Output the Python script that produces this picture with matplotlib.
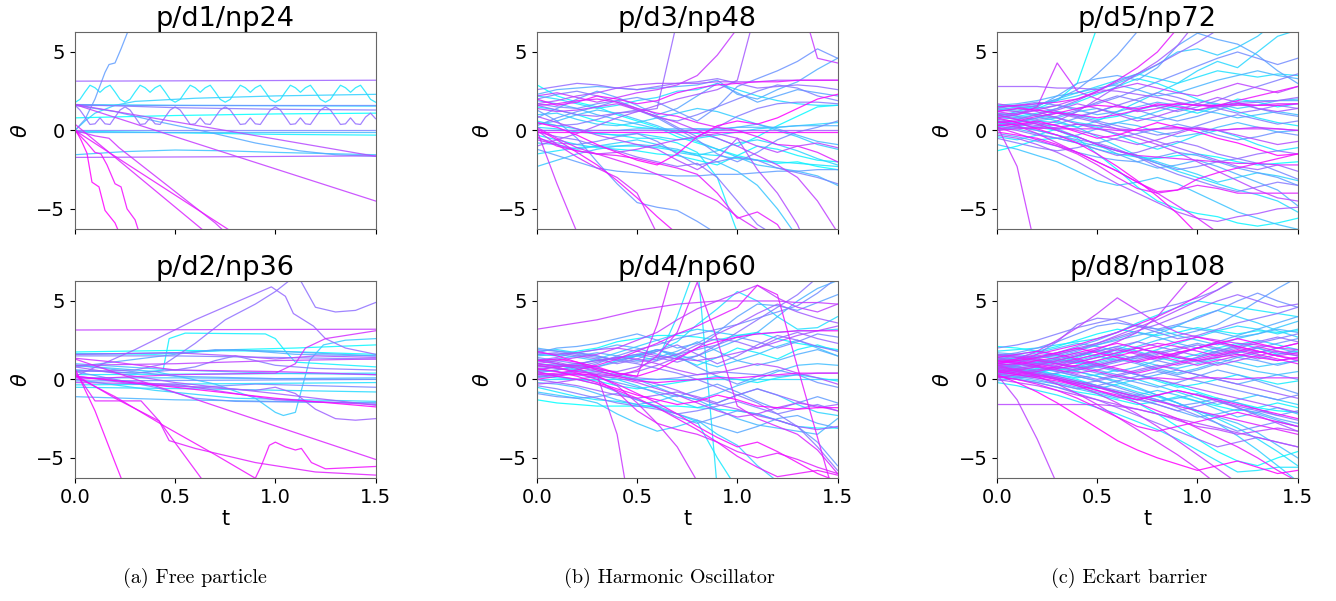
import numpy as np
import matplotlib
matplotlib.use("Agg")
import matplotlib.pyplot as plt

# time grids
t_grid = np.round(np.arange(16) * 0.1, 1)        # 0.0 .. 1.5
wave_t = np.round(np.arange(61) * 0.025, 3)      # 0.0 .. 1.5

cyan_wave = [1.78, 1.98, 2.45, 2.88, 2.72, 2.43, 2.72, 2.88, 2.45, 1.98,
             1.80, 1.98, 2.45, 2.88, 2.72, 2.43, 2.72, 2.88, 2.45, 1.98,
             1.80, 1.98, 2.45, 2.88, 2.72, 2.43, 2.72, 2.88, 2.45, 1.98,
             1.80, 1.98, 2.45, 2.88, 2.72, 2.43, 2.72, 2.88, 2.45, 1.98,
             1.80, 1.98, 2.45, 2.88, 2.72, 2.43, 2.72, 2.88, 2.45, 1.98,
             1.80, 1.98, 2.45, 2.88, 2.72, 2.43, 2.72, 2.88, 2.45, 1.98,
             1.80]
purple_wave = [1.62, 1.30, 0.85, 0.38, 0.42, 0.80, 0.42, 0.38, 0.85, 1.30,
               1.50, 1.30, 0.85, 0.38, 0.42, 0.80, 0.42, 0.38, 0.85, 1.30,
               1.50, 1.30, 0.85, 0.38, 0.42, 0.80, 0.42, 0.38, 0.85, 1.30,
               1.50, 1.30, 0.85, 0.38, 0.42, 0.80, 0.42, 0.38, 0.85, 1.30,
               1.50, 1.30, 0.85, 0.38, 0.42, 0.80, 0.42, 0.38, 0.85, 1.30,
               1.50, 1.30, 0.85, 0.38, 0.42, 0.80, 0.42, 0.38, 0.85, 1.10,
               0.75]

# p/d1/np24 : (t knots, theta knots), cyan -> magenta
d1 = [
    ([0, 0.5, 1.0, 1.5], [0.8, 0.95, 1.05, 1.1]),
    ([0, 0.5, 1.0, 1.5], [-0.05, -0.15, -0.25, -0.3]),
    (wave_t, cyan_wave),
    ([0, 0.5, 1.5], [1.65, 1.6, 1.55]),
    ([0, 0.05, 0.1, 0.2, 0.3, 0.6, 1.0, 1.5], [0.0, 0.6, 1.1, 1.6, 1.85, 2.05, 2.2, 2.3]),
    ([0, 0.25, 0.5, 0.75, 1.0, 1.5], [-1.55, -1.35, -1.25, -1.3, -1.4, -1.55]),
    ([0, 1.5], [-0.1, -0.1]),
    ([0, 0.2, 0.4, 0.68, 0.9, 1.12, 1.3, 1.5], [1.6, 1.2, 0.6, -0.15, -0.8, -1.3, -1.55, -1.65]),
    ([0, 0.05, 0.1, 0.15, 0.17, 0.2, 0.23, 0.27, 0.3], [0.0, 0.7, 2.0, 3.7, 4.2, 4.3, 5.2, 6.5, 7.5]),
    ([0, 1.5], [1.62, 1.62]),
    ([0, 1.5], [0.02, 0.02]),
    ([0, 0.5, 1.0, 1.5], [1.65, 1.45, 1.35, 1.3]),
    (wave_t, purple_wave),
    ([0, 1.5], [3.14, 3.2]),
    ([0, 0.75, 1.5], [-1.72, -1.68, -1.62]),
    ([0, 1.5], [1.65, -1.65]),
    ([0, 1.5], [1.65, -4.5]),
    ([0, 0.1, 0.17, 0.22, 0.3, 0.4, 0.55, 0.7, 0.75], [0.0, -0.35, -0.5, -1.1, -1.9, -2.9, -4.4, -5.9, -6.5]),
    ([0, 0.7], [0.4, -7.0]),
    ([0, 0.8], [0.0, -6.6]),
    ([0, 0.06, 0.1, 0.13, 0.16, 0.2, 0.23, 0.26, 0.3, 0.32], [0.0, -0.8, -1.4, -1.5, -2.2, -3.4, -3.6, -5.0, -5.7, -6.5]),
    ([0, 0.03, 0.06, 0.085, 0.12, 0.15, 0.2, 0.22], [0.1, -0.6, -1.45, -3.3, -3.6, -5.1, -5.9, -6.5]),
]

# p/d2/np36
d2 = [
    ([0, 0.5, 1.0, 1.5], [1.75, 1.85, 1.8, 1.6]),
    ([0, 0.4, 0.8, 1.1, 1.5], [1.65, 1.6, 1.9, 2.0, 2.2]),
    ([0, 0.3, 0.44, 0.47, 0.55, 0.95, 1.0, 1.05, 1.1, 1.5], [0.6, 0.4, 0.6, 2.6, 2.95, 2.9, 2.6, 1.8, 1.1, 0.8]),
    ([0, 1.5], [0.3, 0.4]),
    ([0, 1.5], [-0.35, -0.2]),
    ([0, 0.6, 1.5], [-0.5, -0.6, -0.8]),
    ([0, 0.4, 0.8, 1.5], [0.0, -0.7, -1.2, -1.4]),
    ([0, 0.4, 0.7, 0.9, 1.0, 1.04, 1.1, 1.17, 1.24, 1.35, 1.5], [0.9, 0.5, -0.3, -1.2, -2.1, -2.3, -2.1, 1.2, 2.2, 2.5, 2.6]),
    ([0, 0.5, 1.0, 1.5], [0.1, 0.1, 0.05, 0.1]),
    ([0, 0.5, 1.0, 1.5], [1.0, 0.6, 0.4, 0.3]),
    ([0, 0.5, 1.0, 1.5], [-1.1, -1.3, -1.4, -1.5]),
    ([0, 0.5, 0.8, 1.1, 1.5], [1.6, 1.7, 1.9, 1.6, 1.5]),
    ([0, 0.5, 0.7, 1.0, 1.5], [0.8, 1.6, 1.9, 1.8, 1.5]),
    ([0, 0.5, 1.0, 1.5], [0.9, 0.2, 0.05, 0.0]),
    ([0, 0.4, 0.6, 0.8, 1.5], [0.5, -0.5, -1.2, -1.4, -1.5]),
    ([0, 1.5], [-0.1, 0.0]),
    ([0, 0.3, 0.6, 0.9, 1.2, 1.5], [0.2, -0.3, -0.5, -0.3, -0.4, -0.5]),
    ([0, 0.5, 1.0, 1.5], [1.5, 1.5, 1.4, 1.3]),
    ([0, 0.3, 0.5, 0.6, 0.7, 0.8, 0.9, 1.0, 1.2, 1.5], [0.6, 0.4, 0.6, 0.8, 1.2, 1.5, 1.2, 0.9, 0.7, 0.6]),
    ([0, 0.3, 0.45, 0.6, 0.75, 0.9, 1.0, 1.07, 1.1, 1.13, 1.2, 1.3, 1.4, 1.5], [0.5, 0.6, 1.0, 2.3, 3.8, 4.8, 5.6, 6.3, 6.8, 6.2, 4.6, 4.3, 4.4, 4.9]),
    ([0, 0.3, 0.6, 0.98, 1.05, 1.09, 1.19, 1.25, 1.35, 1.5], [0.2, 1.9, 3.8, 5.9, 5.3, 4.2, 3.4, 2.6, 2.0, 1.6]),
    ([0, 0.5, 0.9, 1.0, 1.1, 1.2, 1.3, 1.4, 1.5], [0.2, -0.4, -0.7, -0.5, -0.9, -1.9, -2.5, -2.6, -2.5]),
    ([0, 0.5, 1.0, 1.5], [0.8, -0.2, -0.9, -1.65]),
    ([0, 0.5, 0.8, 1.0, 1.2, 1.5], [1.6, 1.7, 1.5, 1.3, 1.5, 1.4]),
    ([0, 0.5, 1.0, 1.5], [-0.2, -0.3, -1.3, -1.6]),
    ([0, 0.5, 1.0, 1.5], [0.9, 1.0, 1.2, 1.3]),
    ([0, 1.5], [3.15, 3.2]),
    ([0, 0.2, 0.5, 1.0, 1.5], [1.35, 1.1, 0.6, 0.5, 0.3]),
    ([0, 0.5, 1.0, 1.1, 1.15, 1.25, 1.5], [0.0, 0.3, 0.4, 1.0, 2.0, 2.6, 3.1]),
    ([0, 1.5], [1.3, -5.1]),
    ([0, 0.1, 0.33, 0.42, 0.47, 0.6, 0.9, 1.2, 1.5], [0.5, -1.37, -1.37, -2.65, -3.9, -4.4, -5.3, -5.9, -6.1]),
    ([0, 0.2, 0.42, 0.63, 0.66], [0.3, -1.2, -2.65, -6.3, -6.8]),
    ([0, 0.2, 0.45, 0.7, 0.9, 0.93, 0.97, 1.0, 1.05, 1.1, 1.13, 1.18, 1.25, 1.5],
     [0.2, -1.1, -3.0, -4.8, -6.3, -5.5, -4.2, -4.0, -4.3, -4.5, -4.4, -5.3, -5.7, -5.55]),
    ([0, 0.1, 0.2, 0.24], [0.7, -2.0, -5.3, -6.6]),
    ([0, 0.5, 1.0, 1.5], [0.2, -0.5, -1.2, -1.75]),
]

# p/d3/np48 : theta at t_grid
d3 = [
    [2.9, 2.2, 1.8, 1.5, 1.0, 0.6, 0.2, -0.4, -0.8, -1.2, -1.6, -1.9, -2.1, -2.0, -2.3, -2.5],
    [1.5, 1.3, 1.0, 0.6, 0.4, 0.2, 0.1, 0.0, -0.2, -0.5, -1.0, -0.4, 0.3, 0.9, 1.5, 1.6],
    [-0.3, -0.6, -0.9, -1.1, -1.2, -1.3, -1.5, -1.6, -1.9, -2.2, -1.6, -1.0, -1.2, -1.6, -1.9, -2.0],
    [0.6, 0.3, 0.1, -0.2, -0.3, -0.5, -0.5, -0.8, -1.4, -3.0, -6.5, -9, -9, -9, -9, -9],
    [-1.5, -1.3, -1.1, -1.0, -1.0, -1.0, -1.1, -1.3, -1.5, -1.6, -1.8, -1.9, -2.0, -2.1, -2.2, -2.3],
    [2.2, 2.0, 1.7, 1.4, 1.6, 1.9, 2.1, 2.5, 2.6, 3.0, 2.6, 2.2, 1.9, 1.7, 1.6, 1.6],
    [0.2, 0.1, -0.1, -0.2, -0.3, -0.2, -0.4, -0.6, -0.5, -0.3, -0.1, 0.1, 0.2, 0.3, 0.4, 0.5],
    [-0.8, -0.9, -1.2, -1.0, -0.8, -0.6, -0.9, -1.4, -1.6, -1.3, -0.8, -0.6, -0.9, -1.3, -1.8, -2.2],
    [1.0, 1.1, 0.7, 0.4, 0.3, 0.5, 0.8, 1.1, 1.4, 1.2, 0.8, 0.4, 0.0, -0.4, -0.9, -1.2],
    [-2.3, -1.9, -1.5, -1.2, -1.0, -0.9, -1.0, -1.2, -1.6, -2.0, -2.6, -3.5, -5.0, -6.8, -9, -9],
    [0.4, 0.6, 1.0, 1.3, 1.1, 0.7, 0.3, -0.2, -0.7, -1.2, -1.7, -2.2, -2.4, -2.6, -2.9, -3.5],
    [1.9, 1.7, 1.4, 1.0, 0.7, 0.4, 0.1, -0.1, 0.1, 0.0, 0.2, 0.4, 0.1, -0.3, -0.7, -0.9],
    [0.0, 0.0, 0.0, 0.0, 0.0, 0.1, 0.1, 0.1, 0.1, 0.1, 0.2, 0.2, 0.2, 0.3, 0.3, 0.3],
    [2.3, 2.6, 2.7, 2.8, 2.7, 2.6, 2.7, 2.8, 2.9, 3.2, 2.3, 2.0, 2.6, 3.1, 3.9, 4.6],
    [0.8, 1.4, 2.0, 2.5, 2.1, 1.6, 1.0, 1.4, 2.2, 3.0, 2.4, 1.8, 2.2, 2.6, 2.4, 2.2],
    [-1.2, -1.6, -2.0, -2.4, -2.6, -2.7, -2.8, -2.9, -2.9, -2.8, -2.8, -2.7, -2.6, -2.6, -2.5, -2.5],
    [1.3, 0.6, -0.5, -2.0, -3.4, -4.6, -4.9, -5.1, -5.8, -6.6, -9, -9, -9, -9, -9, -9],
    [0.3, 0.8, 1.2, 1.5, 1.9, 2.1, 1.8, 1.2, 0.6, 1.5, 2.8, 3.3, 3.8, 4.4, 5.2, 4.6],
    [1.7, 1.5, 1.4, 1.7, 1.9, 1.4, 0.8, 0.1, -0.6, -1.5, -2.0, -1.4, -0.6, -0.1, 0.2, 0.6],
    [-0.5, -0.8, -0.9, -0.7, -0.4, -0.2, -0.7, -1.5, -2.2, -2.0, -1.7, -1.9, -2.4, -2.7, -3.0, -3.4],
    [2.0, 2.3, 2.5, 2.2, 1.8, 1.3, 0.8, 0.6, 1.0, 1.5, 2.0, 2.5, 2.9, 2.7, 2.2, 1.9],
    [0.5, 0.3, 0.4, 0.7, 1.1, 1.3, 0.9, 0.2, -0.4, 0.2, 0.9, 1.4, 1.7, 1.8, 1.8, 1.7],
    [-0.1, -0.4, -0.6, -1.0, -1.3, -1.7, -2.0, -2.3, -2.1, -3.0, -4.5, -6.0, -6.8, -9, -9, -9],
    [2.6, 2.8, 3.0, 2.9, 2.7, 2.6, 2.8, 3.0, 3.1, 3.3, 3.0, 2.7, 2.8, 2.9, 2.8, 2.6],
    [1.6, 1.3, 1.0, 0.9, 1.1, 1.2, 1.4, 7.0, 9, 9, 9, 9, 9, 9, 9, 9],
    [0.0, 0.0, 0.0, 0.0, 0.0, 0.0, 0.0, 0.0, 0.0, 0.0, 0.0, 0.0, 0.0, 0.0, 0.0, 0.0],
    [-1.0, -0.6, -0.2, 0.3, 0.8, 1.2, 1.6, 2.0, 2.3, 2.6, 3.2, 8, 9, 9, 9, 9],
    [1.7, 1.9, 2.2, 2.4, 2.7, 2.9, 3.0, 3.0, 3.0, 3.1, 3.1, 3.1, 3.2, 3.2, 3.2, 3.2],
    [0.9, 0.5, 0.1, -0.3, -0.6, -0.9, -1.2, -1.9, -2.5, -1.8, -0.5, -2.5, -4.0, -6.0, -9, -9],
    [-0.6, -0.9, -1.3, -1.5, -1.4, -1.2, -0.9, -0.6, -0.4, -0.2, -0.5, -1.0, -1.4, -1.0, -0.8, -1.1],
    [1.4, 1.2, 1.3, 1.5, 1.7, 1.3, 0.9, 0.5, 0.0, -0.5, -1.0, -1.6, -2.2, -3.0, -4.5, -6.5],
    [2.2, 2.4, 2.1, 1.8, 2.1, 2.4, 2.6, 2.9, 3.5, 4.8, 6.5, 9, 9, 9, 4.6, 4.3],
    [0.0, -3.4, -6.5, -9, -9, -9, -9, -9, -9, -9, -9, -9, -9, -9, -9, -9],
    [0.0, -0.9, -1.7, -2.4, -3.0, -4.0, -6.6, -9, -9, -9, -9, -9, -9, -9, -9, -9],
    [0.2, -0.5, -1.1, -1.5, -1.9, -2.3, -2.8, -3.3, -3.9, -4.5, -5.5, -6.3, -7, -9, -9, -9],
    [1.6, 1.7, 1.9, 2.0, 1.8, 1.4, 1.1, 0.9, 0.5, 0.2, 0.0, -0.4, -0.9, -1.0, -1.4, -2.0],
    [-0.4, -1.0, -1.3, -1.5, -1.6, -1.8, -2.1, -2.4, -2.8, -4.0, -5.6, -5.2, -6.0, -8, -9, -9],
    [2.0, 1.6, 1.8, 2.2, 2.0, 1.7, 1.9, 2.4, 2.7, 2.9, 3.0, 3.1, 3.1, 3.2, 3.2, 3.2],
    [0.1, -0.6, -1.4, -2.2, -3.2, -4.3, -5.5, -6.6, -9, -9, -9, -9, -9, -9, -9, -9],
    [-0.1, -0.1, -0.1, -0.1, -0.1, -0.1, -0.1, -0.1, -0.1, -0.1, -0.1, -0.1, -0.1, -0.1, -0.1, -0.1],
    [0.5, 0.2, -0.3, -0.9, -1.4, -1.9, -2.2, -1.5, -0.4, 0.3, 0.6, 0.4, 0.8, 1.4, 2.0, 2.3],
]

# p/d4/np60
d4 = [
    [-1.3, -1.5, -1.6, -1.7, -1.7, -1.7, -1.7, -1.7, -1.8, -1.9, -2.0, -2.2, -2.6, -3.0, -3.1, -3.1],
    [1.6, 1.5, 1.8, 2.0, 2.4, 2.6, 2.8, 2.8, 2.7, 2.5, 2.8, 3.0, 2.6, 2.3, 2.1, 1.9],
    [0.2, 0.1, 0.0, -0.1, -0.4, -0.6, -0.4, -0.2, 0.0, 0.2, 0.0, -0.2, 0.1, 0.3, 0.1, -0.1],
    [1.0, 0.9, 0.7, 0.8, 1.2, 1.5, 1.9, 1.4, 0.9, 1.4, 2.0, 1.7, 1.3, 1.9, 2.2, 1.8],
    [-0.5, -0.8, -1.1, -1.3, -1.4, -1.6, -1.8, -2.2, -2.7, -5.0, -7, -9, -9, -9, -9, -9],
    [0.6, 0.8, 1.0, 1.2, 1.4, 1.5, 1.2, 4.0, 7.5, -7.0, -9, -9, -9, -9, -9, -9],
    [1.8, 1.9, 1.7, 1.5, 1.2, 1.5, 1.8, 2.4, 3.5, 4.5, 5.6, 5.0, 4.0, 3.2, 3.3, 4.0],
    [0.0, 0.0, 0.0, 0.0, 0.0, 0.0, 0.0, 0.0, 0.0, 0.0, 0.0, 0.0, 0.0, 0.0, 0.0, 0.0],
    [1.3, 1.0, 0.6, 0.3, 0.0, -0.4, -0.9, -1.4, -1.8, -1.5, -1.0, -0.6, -1.0, -1.6, -2.1, -2.3],
    [0.4, 0.6, 0.9, 1.3, 1.7, 2.1, 2.5, 2.9, 3.2, 3.0, 2.8, 2.9, 3.0, 3.1, 3.1, 3.2],
    [-0.8, -1.0, -1.2, -1.5, -2.2, -2.8, -3.3, -3.0, -2.6, -3.5, -4.2, -5.5, -6.5, -8, -9, -9],
    [1.5, 1.6, 1.4, 1.2, 1.3, 1.6, 1.9, 1.6, 1.2, 0.8, 1.2, 1.6, 2.1, 2.5, 2.0, 1.5],
    [0.9, 0.7, 0.6, 0.5, 0.3, 0.0, -0.5, -1.0, -1.3, -0.9, -0.4, 0.0, 0.5, 0.9, 1.0, 0.9],
    [-0.2, -0.3, -0.5, -0.9, -1.3, -1.6, -1.4, -1.0, -1.3, -1.9, -2.5, -2.9, -3.1, -3.3, -3.5, -2.5],
    [2.0, 1.8, 1.7, 1.9, 2.2, 2.0, 1.6, 1.3, 1.5, 2.0, 2.5, 3.0, 4.0, 5.0, 5.8, 6.3],
    [1.1, 1.3, 1.5, 1.7, 1.5, 1.2, 1.4, 1.8, 2.4, 1.8, 1.2, 0.9, 1.2, 1.6, 1.9, 1.5],
    [0.3, 0.2, 0.0, -0.3, -0.8, -1.3, -1.7, -2.2, -2.6, -3.0, -3.4, -3.0, -2.5, -2.3, -2.8, -3.1],
    [1.7, 2.0, 2.1, 2.3, 2.6, 2.9, 2.5, 2.0, 2.3, 3.0, 4.0, 4.8, 4.7, 4.4, 4.9, 5.4],
    [0.6, 0.5, 0.3, 0.1, -0.2, -0.5, -0.8, -1.1, -0.7, -0.3, -0.8, -1.4, -1.9, -1.5, -1.1, -1.5],
    [-0.9, -1.1, -1.2, -1.1, -0.9, -1.3, -1.8, -2.4, -2.8, -2.4, -2.0, -2.2, -2.6, -3.0, -4.0, -5.5],
    [1.4, 1.2, 1.0, 0.8, 1.1, 1.5, 1.9, 1.5, 0.8, 0.2, -0.3, 0.2, 0.6, 0.3, -0.2, -0.5],
    [0.1, 0.3, 0.6, 1.0, 1.5, 1.9, 2.2, 2.6, 2.9, 3.2, 3.5, 3.9, 4.3, 4.7, 5.5, 6.5],
    [1.9, 1.8, 1.6, 1.4, 1.3, 1.1, 1.3, 1.6, 1.9, 2.2, 2.7, 2.4, 2.0, 2.4, 2.9, 2.7],
    [0.7, 0.8, 0.9, 0.7, 0.4, 0.1, 0.0, 0.1, 0.3, 0.5, 0.4, 0.3, 0.2, 0.3, 0.4, 0.4],
    [-0.4, -0.6, -0.9, -1.2, -1.5, -1.7, -1.9, -2.2, -2.0, -1.7, -1.4, -1.8, -2.2, -1.9, -1.6, -2.0],
    [1.2, 1.4, 1.7, 1.5, 1.2, 1.0, 0.7, 0.4, 0.0, -0.5, -1.0, -1.5, -2.2, -3.0, -4.3, -5.8],
    [0.5, 0.6, 0.8, 1.1, 1.4, 1.6, 1.4, 1.1, 1.5, 2.2, 3.0, 3.8, 4.6, 5.4, 6.5, 8.0],
    [1.6, 1.7, 1.5, 1.3, 1.0, 1.3, 1.8, 2.2, 1.6, 1.0, 1.5, 2.2, 2.8, 2.5, 2.1, 1.8],
    [0.9, 1.0, 0.8, 0.6, 0.5, 0.8, 1.2, 1.6, 2.2, 2.6, 2.4, 2.0, 2.6, 3.0, 2.6, 2.3],
    [0.0, -0.2, -0.4, -0.7, -1.0, -1.2, -1.0, -0.8, -1.1, -1.5, -1.0, -0.6, -1.0, -1.4, -1.8, -1.6],
    [1.3, 1.1, 0.8, 0.5, 0.3, 0.5, 0.9, 1.4, 2.0, 2.9, 3.5, 4.2, 4.8, 4.3, 3.9, 3.6],
    [0.2, 0.3, 0.5, 0.4, 0.2, 0.0, -0.3, -0.7, -1.2, -1.6, -1.9, -2.3, -2.6, -3.0, -3.2, -3.0],
    [1.7, 1.6, 1.7, 1.9, 2.0, 1.8, 1.5, 1.3, 1.2, 1.4, 1.7, 2.0, 2.4, 2.8, 3.1, 3.4],
    [0.8, 0.9, 1.0, 1.2, 1.4, 1.3, 1.0, 0.6, 0.3, 0.4, 0.7, 1.0, 0.8, 0.4, 0.1, -0.3],
    [-0.3, -0.2, 0.0, 0.2, 0.1, -0.2, -0.6, -1.0, -1.5, -2.0, -2.4, -2.2, -1.8, -1.5, -1.7, -2.0],
    [1.0, 1.2, 1.4, 1.6, 2.0, 2.5, 3.0, 3.8, 4.5, 5.0, 5.5, 6.0, 5.2, 4.6, 4.3, 4.8],
    [3.2, 3.4, 3.6, 3.8, 4.1, 4.4, 4.6, 4.8, 4.9, 5.0, 5.0, 5.0, 5.0, 4.9, 4.9, 4.8],
    [0.4, 0.3, 0.3, 0.3, -3.5, -11, -11, -11, -11, -11, -11, -11, -11, -11, -11, -11],
    [1.2, 1.0, 0.7, 0.2, -0.4, -1.5, -2.8, -4.3, -6.5, -9, -9, -9, -9, -9, -9, -9],
    [0.6, 0.8, 0.9, 0.7, 0.4, 0.2, 3.5, 8.0, 9, 9, 9, 9, 9, 9, 9, 9],
    [0.9, 0.7, 0.5, 0.3, 0.2, 0.6, 1.5, 3.0, 6.2, 2.5, -1.7, -2.5, -3.0, -3.5, -4.5, -6.0],
    [1.0, 0.8, 0.4, 0.0, -0.8, -2.0, -2.8, -3.2, -3.5, -4.0, -4.6, -5.0, -4.7, -5.1, -5.6, -6.0],
    [0.3, 0.4, 0.6, 0.9, 1.3, 1.8, 2.3, 2.9, 3.4, 4.0, 4.6, 6.0, 5.4, 0.8, -3.7, -8.2],
    [0.5, 0.2, 0.0, -0.3, -0.7, -1.2, -1.8, -2.5, -3.2, -4.0, -4.9, -5.6, -6.2, -6.0, -5.8, -6.1],
    [1.8, 1.5, 1.1, 0.6, 0.2, -0.1, -0.2, -0.1, 0.0, 0.1, 0.1, 0.2, 0.3, 0.4, 0.4, 0.4],
    [0.0, 0.2, 0.4, 0.2, -0.3, -0.9, -1.5, -2.2, -3.0, -3.7, -4.3, -4.0, -4.6, -5.3, -6.0, -6.5],
    [1.2, 1.3, 1.1, 0.8, 0.4, 0.2, 0.6, 1.3, 2.0, 2.4, 2.7, 2.9, 3.0, 3.1, 3.1, 3.1],
    [0.7, 0.5, 0.2, -0.2, -0.6, -1.0, -1.3, -1.6, -1.4, -1.0, -1.3, -1.7, -1.8, -1.9, -1.8, -1.8],
]

# p/d5/np72
d5 = [
    [-1.3, -1.0, -0.6, -0.5, -0.8, -1.2, -1.5, -1.7, -1.8, -1.6, -1.5, -1.7, -2.0, -2.2, -2.1, -2.0],
    [1.6, 1.5, 1.4, 1.9, 3.0, 6.6, 9, 9, 9, 9, 9, 9, 9, 9, 9, 9],
    [0.6, 0.4, 0.2, 0.0, -0.5, -1.5, -2.5, -3.6, -4.5, -5.0, -5.3, -5.5, -5.9, -6.1, -5.9, -5.6],
    [0.2, 0.5, 0.8, 1.2, 1.0, 0.7, 0.9, 1.3, 1.6, 1.4, 1.1, 1.5, 2.0, 1.8, 1.5, 1.7],
    [1.1, 0.9, 1.1, 1.4, 1.8, 2.3, 2.8, 3.3, 3.0, 2.5, 2.0, 1.6, 1.2, 0.8, 0.5, 0.3],
    [-0.4, -0.6, -0.3, 0.1, 0.4, 0.2, -0.3, -0.8, -1.2, -0.8, -0.3, 0.0, -0.4, -0.9, -1.3, -1.1],
    [0.9, 1.2, 1.6, 2.0, 2.4, 2.8, 3.2, 3.6, 3.3, 3.0, 3.4, 3.8, 3.6, 3.4, 3.6, 3.5],
    [1.4, 1.2, 0.9, 0.6, 0.2, -0.4, -1.0, -1.6, -2.1, -2.6, -3.0, -3.4, -3.8, -4.1, -4.5, -5.2],
    [0.0, 0.3, 0.6, 0.5, 0.2, 0.6, 1.2, 1.8, 2.4, 3.0, 3.8, 4.4, 4.0, 5.0, 6.0, 6.4],
    [0.5, 0.3, 0.0, -0.3, -0.7, -1.0, -1.3, -1.6, -2.0, -2.4, -2.8, -3.3, -3.0, -2.7, -2.9, -3.2],
    [1.3, 1.5, 1.7, 1.9, 2.2, 2.6, 3.0, 3.5, 4.2, 5.0, 5.2, 4.8, 5.3, 6.0, 7.0, 8.0],
    [0.7, 0.8, 1.0, 0.8, 0.5, 0.3, 0.5, 0.8, 1.2, 1.6, 1.9, 1.7, 1.4, 1.6, 1.9, 2.0],
    [-0.9, -1.2, -1.6, -2.0, -2.6, -3.2, -3.5, -3.3, -3.0, -3.4, -4.0, -4.6, -5.2, -5.6, -6.0, -6.3],
    [1.0, 0.8, 0.6, 0.8, 1.2, 1.4, 1.1, 0.8, 0.6, 0.9, 1.3, 1.1, 0.8, 1.0, 1.2, 1.0],
    [0.3, 0.1, -0.2, -0.5, -0.3, 0.1, 0.5, 0.3, -0.1, -0.4, -0.2, 0.2, 0.5, 0.2, -0.1, 0.0],
    [1.6, 1.7, 1.9, 2.2, 2.4, 2.7, 2.9, 2.6, 2.2, 2.4, 2.8, 3.2, 3.5, 3.8, 3.5, 3.3],
    [0.4, 0.6, 0.5, 0.1, -0.4, -0.9, -1.5, -2.0, -2.4, -2.2, -1.9, -2.3, -2.8, -3.3, -3.8, -4.8],
    [1.5, 1.3, 1.4, 1.6, 1.3, 1.0, 1.2, 1.5, 1.8, 1.6, 1.3, 1.5, 1.8, 1.9, 1.9, 1.9],
    [0.8, 1.1, 1.5, 2.2, 3.0, 3.3, 3.5, 3.2, 4.0, 5.4, 6.2, 5.8, 5.5, 4.8, 3.8, 3.0],
    [-0.2, -0.4, -0.7, -1.0, -1.4, -1.7, -1.9, -2.0, -1.7, -1.4, -1.6, -2.0, -2.4, -2.7, -3.0, -3.5],
    [1.2, 1.4, 1.6, 2.0, 2.6, 3.6, 4.8, 6.3, 7.5, 9, 9, 9, 9, 9, 9, 9],
    [0.6, 0.4, 0.2, 0.4, 0.8, 1.2, 1.6, 1.3, 0.9, 0.6, 0.9, 1.3, 1.7, 1.4, 1.1, 0.9],
    [0.0, 0.2, 0.0, -0.3, -0.6, -0.8, -0.5, -0.2, 0.1, 0.4, 0.1, -0.3, -0.6, -0.4, -0.1, -0.3],
    [1.5, 1.6, 1.8, 1.6, 1.4, 1.7, 2.1, 2.6, 3.1, 3.6, 4.1, 4.6, 5.0, 4.6, 4.2, 4.6],
    [0.9, 0.7, 0.4, 0.0, -0.4, -0.9, -1.3, -1.7, -2.1, -2.5, -2.3, -2.0, -1.8, -2.1, -2.6, -3.1],
    [0.3, 0.5, 0.8, 1.1, 0.9, 0.6, 0.3, 0.0, -0.3, -0.1, 0.3, 0.7, 1.0, 0.7, 0.4, 0.6],
    [1.1, 0.9, 0.7, 0.9, 1.3, 1.8, 2.2, 1.9, 1.5, 1.2, 1.5, 1.9, 2.4, 2.8, 3.2, 3.6],
    [-0.5, -0.8, -1.1, -1.3, -1.1, -0.8, -1.2, -1.7, -2.3, -2.8, -3.2, -3.6, -3.9, -3.6, -3.3, -3.5],
    [1.4, 1.6, 1.5, 1.2, 0.9, 1.2, 1.6, 2.0, 2.4, 2.1, 1.7, 1.4, 1.1, 1.3, 1.6, 1.4],
    [0.5, 0.7, 1.0, 1.4, 1.9, 2.5, 3.1, 3.6, 4.2, 4.9, 5.6, 6.4, 8, 9, 9, 9],
    [0.2, 0.0, -0.3, -0.5, -0.8, -1.2, -1.6, -1.4, -1.0, -0.7, -1.0, -1.5, -1.8, -1.5, -1.3, -1.5],
    [1.0, 1.1, 1.3, 1.1, 0.8, 0.5, 0.1, -0.3, -0.7, -1.1, -1.5, -1.9, -2.3, -2.5, -2.2, -2.6],
    [2.8, 2.8, 2.8, 2.7, 2.7, 2.6, 2.5, 2.3, 2.1, 1.8, 1.6, 1.6, 1.7, 1.8, 1.9, 2.1],
    [0.7, 0.5, 0.3, 0.6, 1.2, 2.0, 2.8, 3.6, 4.4, 5.4, 7.0, 9, 9, 9, 9, 9],
    [-0.3, -0.5, -0.9, -1.4, -2.0, -2.7, -3.4, -4.0, -4.6, -5.2, -5.6, -5.8, -5.5, -5.3, -5.0, -4.9],
    [1.3, 1.2, 1.0, 1.3, 1.7, 1.4, 1.0, 0.6, 0.9, 1.3, 1.7, 2.1, 1.8, 1.4, 1.2, 1.4],
    [0.1, 0.3, 0.5, 0.3, 0.0, -0.3, -0.6, -0.9, -0.6, -0.2, 0.2, 0.0, -0.3, -0.6, -0.9, -0.7],
    [1.7, 1.5, 1.2, 0.8, 0.4, 0.1, -0.2, -0.5, -0.9, -1.4, -2.0, -2.6, -3.2, -3.8, -4.3, -4.5],
    [0.8, 1.0, 1.3, 1.6, 2.0, 2.4, 2.7, 3.0, 2.7, 2.4, 2.2, 2.6, 3.0, 2.7, 2.4, 2.8],
    [0.4, 0.2, 0.1, 0.2, 0.4, 0.3, 0.1, 0.0, 0.1, 0.2, 0.1, 0.0, 0.1, 0.2, 0.1, 0.0],
    [0.3, -2.3, -8.0, -10, -10, -10, -10, -10, -10, -10, -10, -10, -10, -10, -10, -10],
    [1.2, 1.0, 1.5, 4.3, 2.5, 2.0, 1.6, 1.2, 1.4, 1.7, 1.6, 1.5, 1.6, 1.6, 1.7, 1.7],
    [0.0, 0.1, 0.2, 0.1, 0.1, 0.1, 0.0, 0.0, 0.1, 0.1, 0.1, 0.0, 0.1, 0.1, 0.1, 0.0],
    [0.6, 0.3, -0.2, -0.8, -1.4, -2.0, -2.6, -3.3, -4.0, -4.8, -5.6, -6.5, -8, -9, -9, -9],
    [1.0, 0.7, 0.4, 0.0, -0.4, -0.9, -1.3, -1.6, -1.7, -1.8, -1.9, -2.0, -2.1, -2.1, -2.2, -2.2],
    [0.2, -0.2, -0.6, -1.0, -1.5, -2.2, -3.0, -3.7, -4.0, -3.8, -3.5, -3.7, -4.0, -4.0, -4.0, -4.0],
    [1.5, 1.6, 1.7, 1.8, 2.0, 2.5, 3.2, 4.0, 5.0, 6.5, 9, 9, 9, 9, 9, 9],
    [0.5, 0.6, 0.9, 1.1, 1.0, 0.8, 1.0, 1.3, 1.7, 1.5, 1.3, 1.6, 1.9, 2.2, 2.5, 2.8],
    [-0.1, -0.3, -0.5, -0.9, -1.4, -2.0, -2.6, -3.3, -3.9, -3.8, -3.1, -2.7, -2.4, -2.1, -1.8, -1.5],
    [1.2, 1.4, 1.3, 1.1, 1.4, 1.6, 1.5, 1.4, 1.6, 1.7, 1.6, 1.6, 1.7, 1.6, 1.6, 1.7],
    [0.8, 0.5, 0.1, -0.3, -0.8, -1.5, -2.3, -3.2, -4.2, -5.3, -6.6, -8, -9, -9, -9, -9],
    [0.3, 0.4, 0.6, 0.3, -0.1, -0.5, -0.3, 0.1, 0.5, 0.2, -0.1, -0.5, -0.8, -1.2, -1.6, -1.5],
]

# p/d8/np108
d8 = [
    [2.1, 2.0, 1.8, 1.5, 1.2, 0.9, 0.6, 0.3, 0.0, -0.4, -0.8, -1.2, -1.5, -1.8, -2.0, -2.1],
    [0.9, 0.7, 0.5, 0.3, 0.0, -0.4, -0.9, -1.5, -2.2, -3.0, -3.8, -4.6, -5.2, -5.5, -5.0, -4.6],
    [1.5, 1.6, 1.8, 2.1, 2.5, 2.9, 3.2, 3.0, 2.8, 3.0, 3.3, 3.1, 2.9, 3.1, 3.0, 3.1],
    [0.2, 0.0, -0.2, -0.5, -0.8, -1.0, -1.3, -1.6, -1.4, -1.1, -1.4, -1.7, -2.0, -1.8, -1.5, -1.8],
    [1.1, 1.3, 1.5, 1.3, 1.0, 1.2, 1.6, 2.0, 1.7, 1.3, 1.6, 2.0, 2.3, 2.0, 1.6, 1.8],
    [0.6, 0.8, 0.6, 0.3, 0.1, 0.3, 0.6, 0.3, -0.1, -0.5, -0.3, 0.0, 0.3, 0.0, -0.3, -0.1],
    [1.8, 1.9, 2.0, 2.2, 2.4, 2.6, 3.0, 3.6, 4.1, 4.6, 5.0, 4.8, 4.6, 4.4, 4.2, 4.0],
    [-0.2, -0.4, -0.7, -1.0, -1.4, -1.8, -2.2, -2.7, -3.2, -3.8, -4.5, -5.2, -5.9, -5.8, -5.6, -5.6],
    [1.3, 1.1, 0.9, 1.1, 1.4, 1.8, 2.1, 1.8, 1.4, 1.1, 1.4, 1.8, 2.2, 2.5, 2.2, 1.9],
    [0.4, 0.5, 0.7, 0.5, 0.2, -0.1, -0.4, -0.8, -1.1, -1.5, -2.0, -2.5, -3.1, -3.8, -4.6, -5.5],
    [1.0, 0.9, 1.1, 1.4, 1.7, 1.5, 1.2, 1.5, 1.9, 2.3, 2.7, 3.1, 3.4, 3.2, 2.9, 3.2],
    [0.7, 0.5, 0.3, 0.0, -0.3, -0.6, -0.3, 0.0, -0.4, -0.8, -1.2, -1.6, -1.3, -1.0, -1.3, -1.6],
    [1.6, 1.4, 1.2, 1.0, 1.2, 1.5, 1.9, 2.4, 2.9, 3.4, 4.0, 4.4, 4.0, 3.6, 3.1, 2.7],
    [0.1, 0.2, 0.4, 0.7, 0.5, 0.2, -0.1, -0.5, -1.0, -1.5, -2.1, -2.8, -3.6, -4.5, -5.5, -6.5],
    [0.9, 1.0, 0.8, 0.6, 0.8, 1.1, 1.4, 1.2, 0.9, 0.7, 1.0, 1.3, 1.1, 0.8, 1.0, 1.2],
    [1.2, 1.4, 1.7, 2.0, 2.3, 2.1, 1.8, 2.1, 2.5, 2.8, 2.5, 2.2, 2.6, 2.9, 3.3, 3.7],
    [0.3, 0.1, -0.1, -0.3, -0.6, -0.9, -1.2, -1.0, -0.7, -1.0, -1.4, -1.9, -2.4, -2.1, -1.8, -2.2],
    [0.5, 0.7, 0.9, 1.2, 1.5, 1.8, 1.5, 1.1, 0.7, 0.4, 0.7, 1.1, 0.8, 0.5, 0.3, 0.5],
    [1.4, 1.3, 1.1, 0.8, 0.5, 0.2, -0.2, -0.6, -1.0, -1.5, -2.0, -2.4, -2.8, -3.4, -4.2, -5.0],
    [0.8, 0.9, 1.1, 1.3, 1.1, 0.8, 0.5, 0.8, 1.2, 1.6, 2.0, 1.7, 1.4, 1.7, 2.0, 1.7],
    [-0.1, 0.1, 0.3, 0.1, -0.2, -0.5, -0.8, -1.1, -1.4, -1.2, -0.9, -1.3, -1.8, -2.2, -2.6, -3.0],
    [1.1, 1.2, 1.4, 1.6, 1.9, 2.2, 2.5, 2.8, 3.1, 3.4, 3.2, 3.0, 2.7, 2.9, 3.2, 3.0],
    [0.6, 0.4, 0.5, 0.7, 0.9, 0.6, 0.3, 0.0, 0.3, 0.6, 0.3, 0.0, -0.3, 0.0, 0.3, 0.0],
    [1.7, 1.6, 1.4, 1.5, 1.8, 2.2, 2.6, 3.0, 2.7, 2.3, 2.0, 2.4, 2.8, 3.2, 3.6, 4.0],
    [0.2, 0.3, 0.1, -0.2, -0.5, -0.8, -1.1, -1.3, -1.6, -2.0, -2.4, -2.2, -1.9, -2.1, -2.5, -2.8],
    [1.0, 1.2, 1.4, 1.7, 2.1, 2.5, 3.0, 3.5, 3.2, 2.8, 3.1, 3.5, 4.2, 5.0, 5.8, 6.5],
    [0.5, 0.3, 0.2, 0.4, 0.7, 1.0, 1.3, 1.0, 0.6, 0.3, 0.6, 1.0, 1.4, 1.2, 0.9, 1.2],
    [1.3, 1.5, 1.3, 1.0, 0.7, 0.4, 0.1, -0.2, -0.5, -0.2, 0.2, 0.6, 0.3, -0.1, -0.5, -0.9],
    [0.8, 0.6, 0.4, 0.2, -0.1, -0.4, -0.7, -1.0, -1.3, -1.7, -1.5, -1.2, -1.5, -1.9, -2.3, -2.0],
    [0.0, 0.1, 0.2, 0.4, 0.6, 0.8, 1.1, 1.4, 1.7, 2.0, 2.3, 2.0, 1.7, 2.0, 2.3, 2.6],
    [1.5, 1.7, 2.0, 2.4, 2.9, 3.4, 3.6, 3.4, 3.2, 3.5, 3.9, 4.4, 5.0, 5.5, 5.0, 4.6],
    [0.9, 0.8, 0.6, 0.8, 1.1, 1.4, 1.7, 2.0, 1.7, 1.4, 1.1, 1.4, 1.7, 2.0, 1.7, 1.5],
    [0.4, 0.2, 0.0, -0.3, -0.6, -0.4, -0.1, 0.2, 0.5, 0.2, -0.1, -0.4, -0.7, -1.0, -1.3, -1.0],
    [1.2, 1.0, 0.8, 0.5, 0.2, -0.1, -0.5, -0.9, -1.3, -1.8, -2.3, -2.8, -3.3, -3.0, -2.7, -3.0],
    [0.7, 0.9, 1.2, 1.0, 0.7, 0.9, 1.2, 1.5, 1.2, 0.9, 1.2, 1.5, 1.8, 1.5, 1.2, 1.4],
    [2.0, 2.2, 2.5, 2.9, 3.3, 3.6, 3.9, 4.2, 4.5, 4.8, 5.2, 5.7, 6.4, 7.5, 9, 9],
    [0.3, 0.5, 0.3, 0.0, -0.3, -0.1, 0.2, 0.5, 0.8, 1.1, 1.4, 1.7, 2.0, 2.3, 2.6, 2.9],
    [1.0, 0.8, 1.0, 1.3, 1.6, 1.9, 1.6, 1.3, 1.6, 1.9, 2.2, 1.9, 1.6, 1.3, 1.6, 1.9],
    [0.6, 1.0, 1.6, 2.4, 3.5, 3.9, 3.8, 3.4, 3.0, 2.6, 2.8, 3.2, 3.6, 3.9, 4.2, 4.6],
    [0.9, 0.7, 0.5, 0.2, -0.1, -0.4, -0.8, -1.2, -1.6, -2.0, -1.7, -1.4, -1.7, -2.0, -2.3, -2.6],
    [1.4, 1.2, 1.0, 1.2, 1.5, 1.8, 2.1, 2.4, 2.1, 1.8, 1.5, 1.8, 2.1, 2.4, 2.7, 2.4],
    [0.2, 0.0, -0.2, -0.5, -0.9, -1.3, -1.8, -2.3, -2.8, -3.3, -3.8, -4.3, -4.0, -3.7, -4.0, -4.3],
    [1.1, 1.3, 1.5, 1.7, 2.0, 2.3, 2.7, 3.1, 3.5, 4.0, 4.5, 5.0, 5.4, 5.0, 4.6, 4.8],
    [0.5, 0.6, 0.8, 0.6, 0.3, 0.0, 0.3, 0.6, 0.9, 0.6, 0.3, 0.0, -0.3, -0.6, -0.9, -1.2],
    [0.8, 0.6, 0.4, 0.1, -0.2, -0.5, -0.9, -1.3, -1.0, -0.7, -1.0, -1.4, -1.8, -2.3, -2.8, -3.3],
    [1.6, 1.5, 1.3, 1.1, 1.3, 1.6, 2.0, 1.7, 1.4, 1.7, 2.0, 2.3, 2.0, 1.7, 2.0, 2.3],
    [0.3, 0.4, 0.6, 0.9, 1.2, 0.9, 0.6, 0.3, 0.0, -0.3, -0.6, -0.9, -1.2, -1.5, -1.8, -2.1],
    [1.0, 1.1, 1.3, 1.6, 1.9, 2.3, 2.8, 3.3, 3.8, 4.4, 5.0, 5.7, 6.5, 8, 9, 9],
    [0.0, -0.2, -0.4, -0.7, -1.0, -1.3, -1.6, -1.9, -2.2, -2.5, -2.8, -3.1, -3.4, -3.7, -4.0, -4.3],
    [1.3, 1.2, 1.0, 0.8, 0.6, 0.9, 1.2, 1.5, 1.8, 1.5, 1.2, 0.9, 1.2, 1.5, 1.8, 1.5],
    [-1.6, -1.6, -1.6, -1.6, -1.6, -1.6, -1.7, -1.9, -2.2, -2.6, -3.0, -3.2, -3.5, -3.3, -3.1, -3.3],
    [0.3, -1.3, -3.8, -6.7, -9, -9, -9, -9, -9, -9, -9, -9, -9, -9, -9, -9],
    [1.0, 1.3, 1.8, 2.5, 3.3, 4.2, 5.2, 4.4, 3.6, 3.0, 2.7, 2.5, 2.3, 2.2, 2.0, 1.9],
    [0.5, 0.7, 0.9, 1.2, 1.5, 1.9, 2.4, 3.0, 4.0, 5.5, 7.0, 9, 9, 9, 9, 9],
    [0.8, 0.6, 0.3, 0.0, -0.4, -0.9, -1.5, -2.2, -3.0, -3.9, -4.8, -5.7, -6.6, -8, -9, -9],
    [1.2, 1.0, 0.8, 1.0, 1.3, 1.6, 1.9, 1.6, 1.3, 1.6, 2.0, 2.4, 2.1, 1.8, 1.5, 1.7],
    [0.4, 0.6, 0.8, 0.6, 0.4, 0.6, 0.9, 1.2, 1.5, 1.2, 0.9, 1.2, 1.5, 1.8, 1.5, 1.2],
    [0.9, 0.6, 0.2, -0.3, -0.9, -1.6, -2.4, -3.2, -4.0, -4.8, -5.7, -6.7, -8, -9, -9, -9],
    [1.5, 1.4, 1.2, 1.0, 0.8, 0.5, 0.2, 0.0, 0.1, 0.0, 0.1, 0.1, 0.0, 0.1, 0.1, 0.1],
    [0.1, 0.3, 0.5, 0.8, 1.1, 1.4, 1.7, 2.0, 2.3, 2.1, 1.8, 1.5, 1.8, 2.1, 1.8, 1.6],
    [0.7, 0.5, 0.3, 0.1, -0.2, -0.5, -0.8, -1.1, -1.4, -1.7, -2.0, -2.3, -2.6, -2.9, -3.2, -3.5],
    [1.1, 1.3, 1.6, 1.9, 2.2, 2.6, 3.0, 3.5, 4.0, 4.6, 5.3, 6.2, 8, 9, 9, 9],
    [0.6, 0.4, 0.2, 0.0, -0.3, -0.7, -1.1, -1.5, -2.0, -2.5, -3.1, -3.7, -4.3, -5.0, -5.8, -6.5],
    [1.4, 1.6, 1.8, 1.6, 1.3, 1.0, 0.7, 0.4, 0.7, 1.0, 1.3, 1.6, 1.9, 1.6, 1.3, 1.0],
    [0.2, 0.0, -0.3, -0.7, -1.2, -1.8, -2.4, -3.0, -3.3, -3.0, -2.7, -2.4, -2.1, -2.4, -2.7, -3.0],
    [0.9, 1.0, 1.2, 1.4, 1.7, 2.0, 2.3, 2.0, 1.7, 1.4, 1.2, 1.4, 1.6, 1.4, 1.2, 1.4],
    [1.2, 1.1, 0.9, 0.7, 0.9, 1.2, 1.5, 1.8, 2.1, 2.4, 2.7, 2.4, 2.1, 1.8, 1.5, 1.3],
    [0.5, 0.3, 0.1, -0.1, -0.4, -0.7, -1.0, -1.3, -1.0, -0.7, -1.0, -1.3, -1.6, -1.9, -2.2, -2.5],
    [1.0, 1.2, 1.4, 1.7, 2.0, 1.7, 1.4, 1.1, 1.4, 1.7, 2.0, 2.3, 2.6, 2.3, 2.0, 2.3],
    [0.3, -0.2, -0.8, -1.5, -2.3, -3.1, -3.9, -4.5, -5.0, -5.4, -5.8, -5.5, -5.2, -5.6, -6.0, -5.8],
]

titles = ["p/d1/np24", "p/d2/np36", "p/d3/np48", "p/d4/np60", "p/d5/np72", "p/d8/np108"]
captions = ["(a) Free particle", "(b) Harmonic Oscillator", "(c) Eckart barrier"]

fig = plt.figure(figsize=(13.36, 6.01), dpi=100)

lefts = [0.0561, 0.4019, 0.7463]
width = 0.2250
bottoms = [0.619, 0.2047]
height = 0.328

panels = [(d1, 0, 0, False), (d2, 0, 1, False), (d3, 1, 0, True),
          (d4, 1, 1, True), (d5, 2, 0, True), (d8, 2, 1, True)]

for k, (lines, col, row, on_grid) in enumerate(panels):
    ax = fig.add_axes([lefts[col], bottoms[row], width, height])
    n = len(lines)
    for i, line in enumerate(lines):
        c = plt.cm.cool(i / (n - 1))
        if on_grid:
            ax.plot(t_grid, line, color=c, lw=0.9, alpha=0.85)
        else:
            ax.plot(line[0], line[1], color=c, lw=0.9, alpha=0.85)
    ax.set_xlim(0, 1.5)
    ax.set_ylim(-2 * np.pi, 2 * np.pi)
    ax.set_xticks([0, 0.5, 1.0, 1.5])
    ax.set_yticks([-5, 0, 5])
    ax.tick_params(labelsize=14)
    ax.set_title(titles[k], fontsize=19.5, pad=3)
    ax.set_ylabel(r"$\theta$", fontsize=15)
    if row == 0:
        ax.set_xticklabels([])
    else:
        ax.set_xlabel("t", fontsize=15, labelpad=2)
    for s in ax.spines.values():
        s.set_color("#666666")

cap_x = [195, 669, 1129]
for x, txt in zip(cap_x, captions):
    fig.text(x / 1336, 1 - 578 / 601, txt, ha="center", va="center",
             fontsize=14.5, family="cmr10")

fig.savefig("out.png", dpi=100)
